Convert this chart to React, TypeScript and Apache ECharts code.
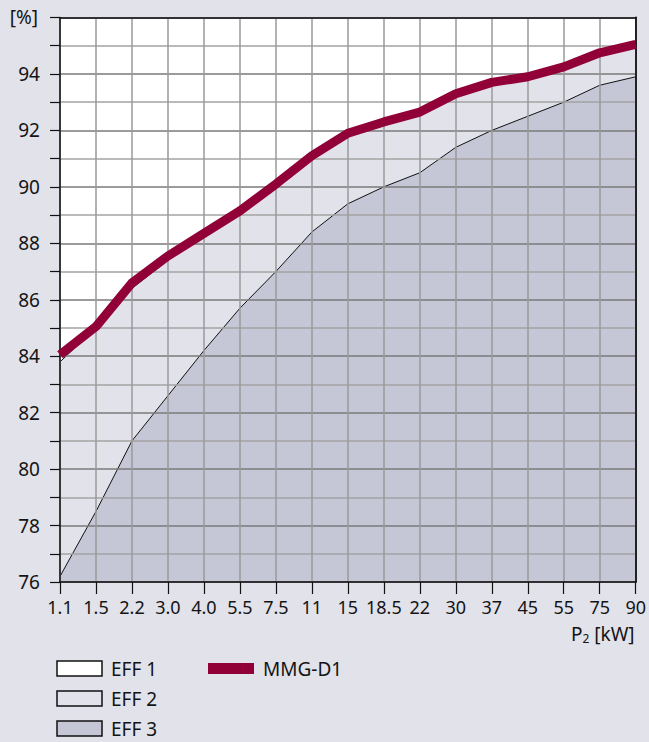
import React, { useEffect, useRef } from "react";
import * as echarts from "echarts";

const categories = ["1.1", "1.5", "2.2", "3.0", "4.0", "5.5", "7.5", "11", "15", "18.5", "22", "30", "37", "45", "55", "75", "90"];
const eff1Limit = [83.8, 85.0, 86.4, 87.4, 88.3, 89.2, 90.1, 91.0, 91.8, 92.2, 92.6, 93.2, 93.6, 93.9, 94.2, 94.7, 95.0];
const eff2Limit = [76.2, 78.5, 81.0, 82.6, 84.2, 85.7, 87.0, 88.4, 89.4, 90.0, 90.5, 91.4, 92.0, 92.5, 93.0, 93.6, 93.9];
const mmgD1 = [84.05, 85.05, 86.6, 87.55, 88.35, 89.15, 90.1, 91.1, 91.9, 92.3, 92.65, 93.3, 93.7, 93.9, 94.25, 94.75, 95.05];
const yMin = 76;
const yMax = 96;
const yLabelStep = 2;

const BG = "#e1e2ea";
const EFF3 = "#c5c6d6";
const RED = "#910037";
const FONT = "Noto Sans";
const TXT = "#141414";

export default function App() {
  const ref = useRef<HTMLDivElement>(null);
  useEffect(() => {
    if (!ref.current) return;
    const chart = echarts.init(ref.current, null, { renderer: "svg" });
    const legendItems = [
      { label: "EFF 1", fill: "#ffffff", y: 661 },
      { label: "EFF 2", fill: BG, y: 691 },
      { label: "EFF 3", fill: EFF3, y: 721 },
    ];
    const graphics: any[] = [
      {
        type: "text",
        right: 649 - 38,
        top: 7,
        style: { text: "[%]", font: `19px "${FONT}"`, fill: TXT },
      },
      {
        type: "text",
        left: 571,
        top: 624,
        style: {
          text: "{a|P}{b|2}{a| [kW]}",
          rich: {
            a: { fontFamily: FONT, fontSize: 19, fill: TXT, color: TXT },
            b: { fontFamily: FONT, fontSize: 12, fill: TXT, color: TXT, padding: [10, 0, 0, 0] },
          },
        },
      },
    ];
    legendItems.forEach((it) => {
      graphics.push({
        type: "rect",
        shape: { x: 57, y: it.y, width: 45, height: 15 },
        style: { fill: it.fill, stroke: "#111", lineWidth: 1.5 },
      });
      graphics.push({
        type: "text",
        x: 111,
        y: it.y + 8,
        style: { text: it.label, font: `19px "${FONT}"`, fill: TXT, verticalAlign: "middle" },
      });
    });
    graphics.push({
      type: "rect",
      shape: { x: 208, y: 663, width: 46, height: 11 },
      style: { fill: RED },
    });
    graphics.push({
      type: "text",
      x: 263,
      y: 669,
      style: { text: "MMG-D1", font: `19px "${FONT}"`, fill: TXT, verticalAlign: "middle" },
    });

    chart.setOption({
      animation: false,
      backgroundColor: BG,
      grid: {
        left: 60,
        right: 13,
        top: 17.5,
        bottom: 160,
        show: true,
        backgroundColor: "#ffffff",
        borderWidth: 0,
      },
      xAxis: [
        {
          type: "category",
          data: categories,
          boundaryGap: false,
          z: 3,
          axisLine: { show: true, lineStyle: { color: "#111", width: 1.5 } },
          axisTick: { show: true, length: 12, interval: 0, lineStyle: { color: "#111", width: 1.2 } },
          axisLabel: { interval: 0, fontSize: 18, fontFamily: FONT, color: TXT, margin: 16 },
          splitLine: { show: true, interval: 0, lineStyle: { color: "#9a9a9a", width: 1.5 } },
        },
        {
          type: "category",
          data: categories,
          boundaryGap: false,
          position: "top",
          z: 3,
          axisLine: { show: true, lineStyle: { color: "#111", width: 1.5 } },
          axisTick: { show: false },
          axisLabel: { show: false },
          splitLine: { show: false },
        },
      ],
      yAxis: [
        {
          type: "value",
          min: yMin,
          max: yMax,
          interval: 1,
          z: 3,
          axisLine: { show: true, lineStyle: { color: "#111", width: 1.5 } },
          axisTick: { show: true, length: 10, lineStyle: { color: "#111", width: 1.2 } },
          axisLabel: {
            fontSize: 19,
            fontFamily: FONT,
            color: TXT,
            margin: 20,
            formatter: (v: number) => (v % yLabelStep === 0 && v < yMax ? String(v) : ""),
          },
          splitLine: { show: true, lineStyle: { color: ["#7a7a7a", "#a3a3a3"], width: 1.5 } },
        },
        {
          type: "value",
          min: yMin,
          max: yMax,
          interval: 1,
          position: "right",
          z: 3,
          axisLine: { show: true, lineStyle: { color: "#222", width: 2 } },
          axisTick: { show: false },
          axisLabel: { show: false },
          splitLine: { show: false },
        },
      ],
      series: [
        {
          name: "EFF 1",
          type: "line",
          data: eff1Limit,
          symbol: "none",
          z: 1,
          lineStyle: { color: "#111", width: 1 },
          areaStyle: { color: BG, opacity: 1, origin: "start" },
        },
        {
          name: "EFF 2",
          type: "line",
          data: eff2Limit,
          symbol: "none",
          z: 2,
          lineStyle: { color: "#111", width: 1 },
          areaStyle: { color: EFF3, opacity: 1, origin: "start" },
        },
        {
          name: "MMG-D1",
          type: "line",
          data: mmgD1,
          symbol: "none",
          z: 10,
          lineStyle: { color: RED, width: 9, join: "round", cap: "butt" },
        },
      ],
      graphic: graphics,
    });
    return () => chart.dispose();
  }, []);
  return (
    <div
      ref={ref}
      style={{ position: "absolute", left: 0, top: 0, width: 649, height: 742, background: BG }}
    />
  );
}
